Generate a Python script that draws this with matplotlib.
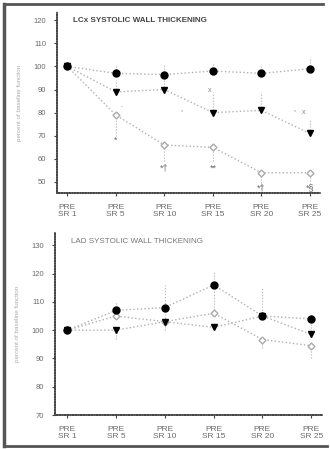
import matplotlib
matplotlib.use("Agg")
import matplotlib.pyplot as plt
from matplotlib.lines import Line2D

plt.rcParams["font.family"] = ["Liberation Sans", "DejaVu Sans"]

labels = ["PRE\nSR 1", "PRE\nSR 5", "PRE\nSR 10", "PRE\nSR 15", "PRE\nSR 20", "PRE\nSR 25"]

# LCx panel
lcx_circle = [100, 97, 96.5, 98, 97, 99]
lcx_circle_up = [0, 3, 4, 4, 4, 5]
lcx_tri = [100, 89, 90, 80, 81, 71]
lcx_tri_up = [0, 5, 4, 9, 8, 6]
lcx_open = [100, 79, 66, 65, 54, 54]
lcx_open_dn = [0, 9, 7, 6, 7, 6]
lcx_sig = ["*", "*\u2020", "**", "*\u2020", "*\u00a7"]
lcx_sig_y = [68, 56, 56, 47.5, 47.5]

# LAD panel
lad_circle = [100, 107, 108, 116, 105, 104]
lad_circle_dn = [0, 0, 8, 0, 0, 0]
lad_circle_up = [0, 3, 8, 5, 10, 0]
lad_tri = [100, 100, 103, 101, 105, 98.5]
lad_tri_dn = [0, 3, 0, 0, 0, 0]
lad_tri_up = [0, 0, 0, 0, 0, 7]
lad_open = [100, 105, 103, 106, 96.7, 94.5]
lad_open_dn = [0, 0, 0, 0, 3, 4.5]
lad_open_up = [0, 0, 0, 8, 0, 0]

fig = plt.figure(figsize=(3.30, 4.49), dpi=100)
ax1 = fig.add_axes([0.173, 0.570, 0.797, 0.403])
ax2 = fig.add_axes([0.167, 0.0757, 0.81, 0.405])

x = list(range(len(labels)))
lc = "#b0b0b0"
tc = "#6a6a6a"


def style(ax, ticks, ylim, xlim, title, title_color, title_weight):
    ax.set_xlim(*xlim)
    ax.set_ylim(*ylim)
    ax.set_yticks(ticks)
    ax.set_xticks(x)
    ax.set_xticklabels(labels, fontsize=6, color=tc, linespacing=1.0)
    ax.tick_params(axis="y", labelsize=5.5, labelcolor=tc, length=2, color="#444", pad=6)
    ax.tick_params(axis="x", length=2, color="#444", pad=6)
    for s in ("top", "right"):
        ax.spines[s].set_visible(False)
    for s in ("left", "bottom"):
        ax.spines[s].set_color("#444444")
        ax.spines[s].set_linewidth(1.2)
        ax.spines[s].set_linestyle((0, (1, 0.6)))
    ax.set_ylabel("percent of baseline function", fontsize=4.5, color="#aaaaaa", labelpad=8)
    ax.text(0.06, 0.975, title, transform=ax.transAxes, fontsize=5.8, color=title_color,
            va="top", ha="left", fontweight=title_weight)


style(ax1, [50, 60, 70, 80, 90, 100, 110, 120], (45.2, 123.5), (-0.21, 5.21),
      "LCx SYSTOLIC WALL THICKENING", "#444444", "bold")
style(ax2, [70, 80, 90, 100, 110, 120, 130], (70, 134.3), (-0.25, 5.23),
      "LAD SYSTOLIC WALL THICKENING", "#777777", "normal")

ekw = dict(ecolor=lc, elinewidth=0.8, capsize=0, linestyle=":", color=lc, linewidth=1.0)

# LCx
e = ax1.errorbar(x, lcx_open, yerr=[lcx_open_dn, [0] * 6], marker="D", ms=3.5,
                 mfc="white", mec="#aaaaaa", **ekw)
e[-1][0].set_linestyle(":")
e = ax1.errorbar(x, lcx_tri, yerr=[[0] * 6, lcx_tri_up], marker="v", ms=4.5,
                 mfc="black", mec="black", **ekw)
e[-1][0].set_linestyle(":")
e = ax1.errorbar(x, lcx_circle, yerr=[[0] * 6, lcx_circle_up], marker="o", ms=5,
                 mfc="black", mec="black", **ekw)
e[-1][0].set_linestyle(":")
for i, (s, yy) in enumerate(zip(lcx_sig, lcx_sig_y), start=1):
    ax1.text(i, yy, s, fontsize=6.5, color="#666666", ha="center", va="center")
ax1.text(2.93, 89.5, "x", fontsize=5, color="#888888", ha="center", va="center")
ax1.text(4.88, 80, "x", fontsize=5, color="#888888", ha="center", va="center")
ax1.text(1.13, 82.4, "-", fontsize=5, color="#aaaaaa", ha="center", va="center")
ax1.text(2.37, 80.5, "*", fontsize=4, color="#999999", ha="center", va="center")
ax1.text(4.69, 80.5, "*", fontsize=4, color="#999999", ha="center", va="center")

# LAD
e = ax2.errorbar(x, lad_open, yerr=[lad_open_dn, lad_open_up], marker="D", ms=3.5,
                 mfc="white", mec="#aaaaaa", **ekw)
e[-1][0].set_linestyle(":")
e = ax2.errorbar(x, lad_tri, yerr=[lad_tri_dn, lad_tri_up], marker="v", ms=4.5,
                 mfc="black", mec="black", **ekw)
e[-1][0].set_linestyle(":")
e = ax2.errorbar(x, lad_circle, yerr=[lad_circle_dn, lad_circle_up], marker="o", ms=5,
                 mfc="black", mec="black", **ekw)
e[-1][0].set_linestyle(":")

# scanned page border
bc = "#555555"
fig.add_artist(Line2D([0.012, 0.012], [0.006, 0.992], color=bc, lw=2.5, transform=fig.transFigure))
fig.add_artist(Line2D([0.012, 0.98], [0.99, 0.99], color=bc, lw=2.0, transform=fig.transFigure))
fig.add_artist(Line2D([0.012, 0.99], [0.006, 0.006], color=bc, lw=2.0, transform=fig.transFigure))

fig.savefig("out.png", dpi=100)
